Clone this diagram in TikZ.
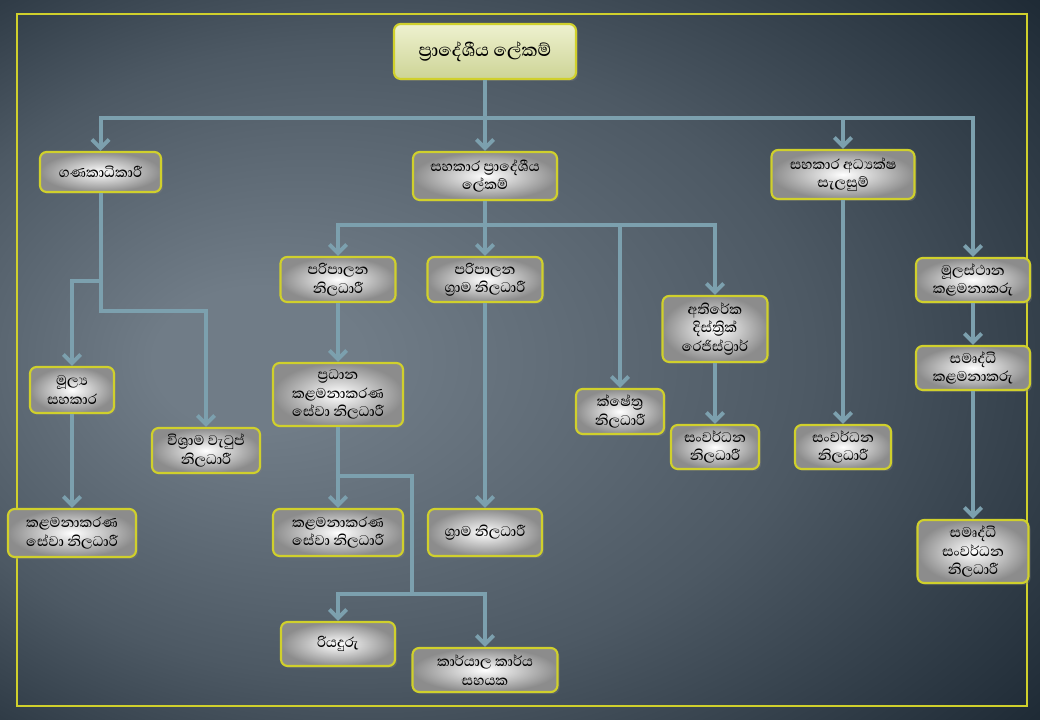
\documentclass[tikz,border=0pt]{standalone}
\usepackage{fontspec}
\IfFontExistsTF{Abhaya Libre Medium}
  {\setmainfont[Script=Sinhala]{Abhaya Libre Medium}}
  {\setmainfont[Script=Sinhala]{Abhaya Libre}}
\usepackage{tikz}
\usetikzlibrary{arrows.meta, shadows}
\definecolor{framey}{HTML}{D0D02C}
\definecolor{linkblue}{HTML}{7CA0AE}
\definecolor{bgin}{HTML}{707C87}
\definecolor{bgout}{HTML}{18242F}
\colorlet{bgmid}{bgin!60!bgout}
\definecolor{headtop}{HTML}{EEF1CF}
\definecolor{headbot}{HTML}{CDD496}
\newdimen\px \px=0.75pt
\newcommand{\zwj}{^^^^200d}
\pgfdeclareradialshading{slidebg}{\pgfpoint{-14bp}{0bp}}{color(0bp)=(bgin); color(5bp)=(bgin); color(22bp)=(bgmid); color(40bp)=(bgout); color(50bp)=(bgout)}

\begin{document}
\begin{tikzpicture}[x=\px, y=-\px,
    post/.style={rectangle, 
      rounded corners=5pt, 
      draw=framey, 
      line width=1.6pt, 
      shade, 
      inner color=white, 
      outer color=black!45, 
      drop shadow={opacity=0.35, shadow xshift=1.5pt, shadow yshift=-1.5pt}, 
      align=center, 
      inner sep=2pt, 
      font=\fontsize{13.5}{13.8}\selectfont},
    size/.style 2 args={minimum width=#1\px, minimum height=#2\px},
    link/.style={draw=linkblue, 
      line width=3pt, 
      -{Straight Barb[length=6.5pt, width=13pt]}}]

  \useasboundingbox (0,0) rectangle (1040,720);
  \shade[shading=slidebg] (0,0) rectangle (1040,720);
  \draw[framey, line width=1.6pt] (17,14) rectangle (1027,706);

% POSTS

  \node [post, size={182}{55}, 
    top color=headtop, bottom color=headbot, 
    font=\fontsize{17}{20}\selectfont] (plek) at (485,51.5) 
    {ප්\zwj රාදේශීය ලේකම්};

  \node [post, size={121}{40}] (gana) at (100.5,172) {ගණකාධිකාරී};
  \node [post, size={144}{48}] (splek) at (485,176) 
    {සහකාර ප්\zwj රාදේශීය\\ලේකම්};
  \node [post, size={143}{49}] (sadhy) at (843,174.5) 
    {සහකාර අධ්\zwj යක්ෂ\\සැලසුම්};
  \node [post, size={114}{44}] (mulas) at (973,280) 
    {මූලස්ථාන\\කළමනාකරු};

  \node [post, size={115}{45}] (parinil) at (338,279.5) {පරිපාලන\\නිලධාරී};
  \node [post, size={115}{45}] (pgrama) at (485,279.5) 
    {පරිපාලන\\ග්\zwj රාම නිලධාරී};
  \node [post, size={105}{66}] (atireka) at (715,329) 
    {අතිරේක\\දිස්ත්\zwj රික්\\රෙජිස්ට්\zwj රාර්};

  \node [post, size={84}{46}] (mulya) at (72,390) {මූල්\zwj ය\\සහකාර};
  \node [post, size={108}{45}] (visrama) at (206,450.5) 
    {විශ්\zwj රාම වැටුප්\\නිලධාරී};
  \node [post, size={130}{63}] (pradhana) at (338,394.5) 
    {ප්\zwj රධාන\\කළමනාකරණ\\සේවා නිලධාරී};
  \node [post, size={88}{45}] (kshetra) at (620,411.5) 
    {ක්ෂේත්\zwj ර\\නිලධාරී};
  \node [post, size={88}{44}] (sanvA) at (715,447) {සංවර්ධන\\නිලධාරී};
  \node [post, size={96}{44}] (sanvB) at (843,447) {සංවර්ධන\\නිලධාරී};
  \node [post, size={114}{44}] (samkal) at (973,368) {සමෘද්ධි\\කළමනාකරු};

  \node [post, size={128}{48}] (kalmA) at (72,533) 
    {කළමනාකරණ\\සේවා නිලධාරී};
  \node [post, size={130}{47}] (kalmB) at (338,532.5) 
    {කළමනාකරණ\\සේවා නිලධාරී};
  \node [post, size={114}{47}] (grama) at (485,532.5) {ග්\zwj රාම නිලධාරී};
  \node [post, size={111}{63}] (samsanv) at (973,551.5) 
    {සමෘද්ධි\\සංවර්ධන\\නිලධාරී};
  \node [post, size={114}{44}] (riya) at (338,644) {රියදුරු};
  \node [post, size={145}{44}] (karya) at (485,670) 
    {කාර්යාල කාර්ය\\සහයක};

  \coordinate (split) at (412,594);

% LINKS

  \draw[link] (plek.south) -- ++(0,38) -| (gana.north);
  \draw[link] (plek.south) -- (splek.north);
  \draw[link] (plek.south) -- ++(0,38) -| (sadhy.north);
  \draw[link] (plek.south) -- ++(0,38) -| (mulas.north);

  \draw[link] (splek.south) -- ++(0,24) -| (parinil.north);
  \draw[link] (splek.south) -- (pgrama.north);
  \draw[link] (splek.south) -- ++(0,24) -| (kshetra.north);
  \draw[link] (splek.south) -- ++(0,24) -| (atireka.north);

  \draw[link] (gana.south) -- ++(0,88) -| (mulya.north);
  \draw[link] (gana.south) -- ++(0,118) -| (visrama.north);
  \draw[link] (mulya.south) -- (kalmA.north);

  \draw[link] (parinil.south) -- (pradhana.north);
  \draw[link] (pradhana.south) -- (kalmB.north);
  \draw[link] (pradhana.south) -- ++(0,49) -| (split) -| (riya.north);
  \draw[link] (split) -| (karya.north);
  \draw[link] (pgrama.south) -- (grama.north);

  \draw[link] (atireka.south) -- (sanvA.north);
  \draw[link] (sadhy.south) -- (sanvB.north);
  \draw[link] (mulas.south) -- (samkal.north);
  \draw[link] (samkal.south) -- (samsanv.north);

\end{tikzpicture}
\end{document}
